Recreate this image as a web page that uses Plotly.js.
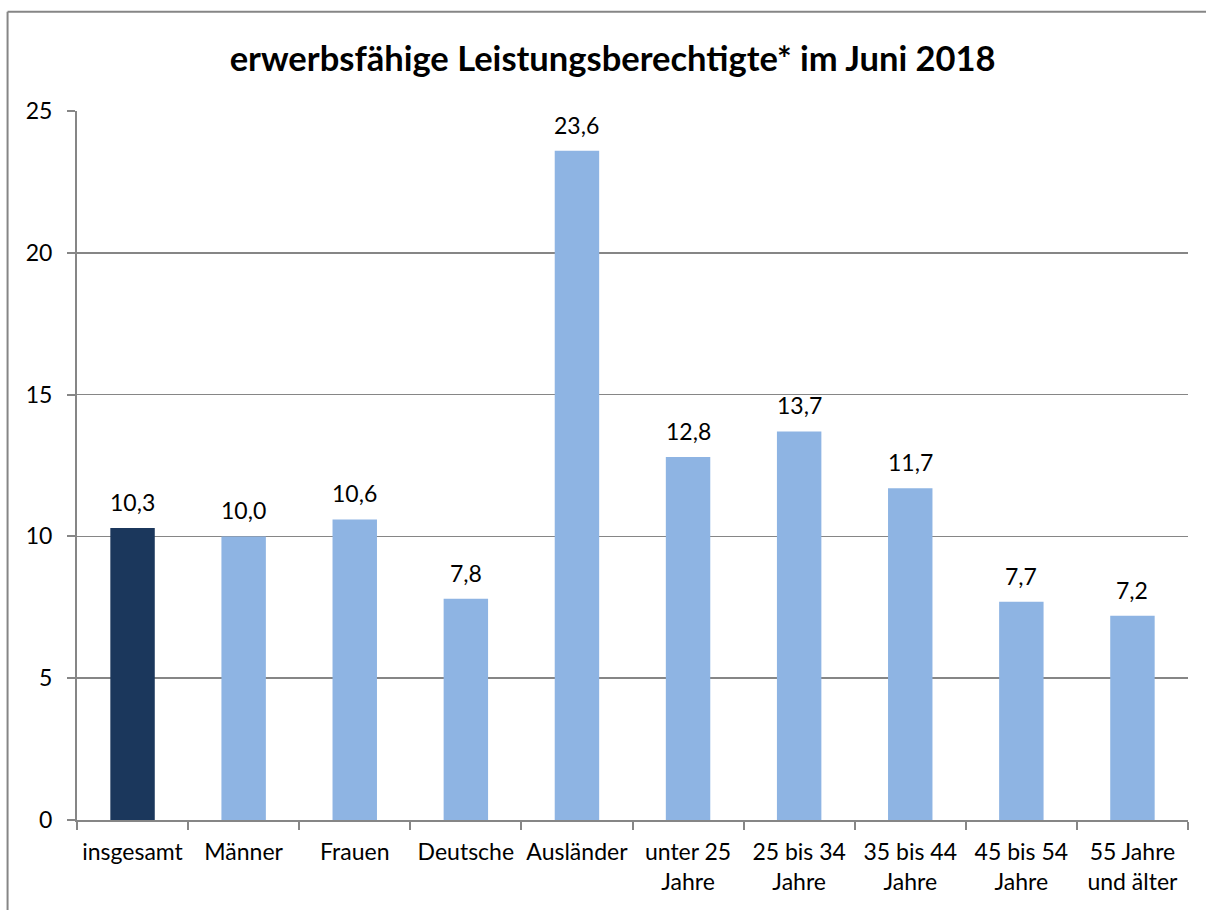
<!DOCTYPE html>
<html><head><meta charset="utf-8">
<script src="https://cdn.plot.ly/plotly-3.0.1.min.js"></script>
<style>html,body{margin:0;padding:0;background:#fff}#chart{width:1206px;height:910px}</style>
</head><body><div id="chart"></div>
<script>
const categories = ["insgesamt","Männer","Frauen","Deutsche","Ausländer","unter 25<br>Jahre","25 bis 34<br>Jahre","35 bis 44<br>Jahre","45 bis 54<br>Jahre","55 Jahre<br>und älter"];
const values = [10.3,10.0,10.6,7.8,23.6,12.8,13.7,11.7,7.7,7.2];
const labels = values.map(v => v.toFixed(1).replace('.', ','));
const colors = values.map((v,i) => i === 0 ? '#1b375c' : '#8eb4e3');
const font = 'Lato, "Open Sans", sans-serif';

const trace = {
  type: 'bar', x: categories, y: values,
  marker: {color: colors},
  hoverinfo: 'none'
};
const annotations = values.map((v, i) => ({
  x: categories[i], y: v, xref: 'x', yref: 'y',
  text: labels[i], showarrow: false, yanchor: 'bottom', yshift: 10,
  font: {family: font, size: 23, color: '#000'}
}));
const layout = {
  width: 1206, height: 910,
  margin: {l: 77, r: 18, t: 111, b: 90},
  paper_bgcolor: '#fff', plot_bgcolor: '#fff',
  bargap: 0.6,
  showlegend: false,
  font: {family: font, size: 23, color: '#000'},
  title: {text: '<b>erwerbsfähige Leistungsberechtigte* im Juni 2018</b>', x: 0.508, xanchor: 'center', y: 0.935, yanchor: 'middle', font: {family: font, size: 34.5, color: '#000'}},
  xaxis: {type: 'category', tickson: 'boundaries', ticks: 'outside', ticklen: 8, tickcolor: '#868686', tickwidth: 2,
          showline: true, linecolor: '#868686', linewidth: 2, showgrid: false, tickangle: 0,
          tickfont: {family: font, size: 23, color: '#000'}, ticklabelstandoff: 10, automargin: false},
  yaxis: {range: [0, 25], dtick: 5, ticks: 'outside', ticklen: 8, tickcolor: '#868686', tickwidth: 2,
          showline: true, linecolor: '#868686', linewidth: 2, showgrid: true, gridcolor: '#868686', gridwidth: 1.5,
          zeroline: false, tickfont: {family: font, size: 23, color: '#000'}, ticklabelstandoff: 10, automargin: false},
  annotations: annotations,
  shapes: [
    {type: 'line', xref: 'paper', yref: 'paper', x0: -0.0625, x1: -0.0625, y0: 1.14, y1: -0.2, line: {color: '#868686', width: 2}},
    {type: 'line', xref: 'paper', yref: 'paper', x0: -0.0625, x1: 1.02, y0: 1.14, y1: 1.14, line: {color: '#868686', width: 2}}
  ]
};
Plotly.newPlot('chart', [trace], layout, {displayModeBar: false, staticPlot: true});
</script></body></html>
